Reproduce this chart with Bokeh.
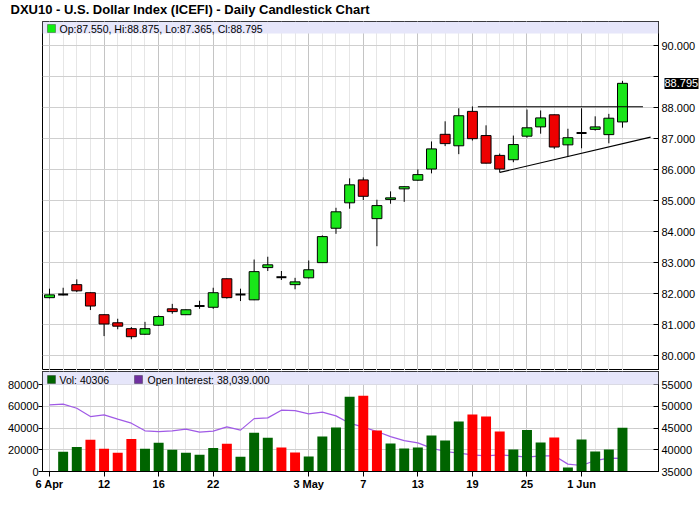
from bokeh.plotting import figure
from bokeh.layouts import column
from bokeh.models import (Range1d, LinearAxis, FixedTicker, NumeralTickFormatter,
                          Label, BoxAnnotation, ColumnDataSource, Title)
from bokeh.embed import file_html
from bokeh.resources import INLINE

# ---------------- data ----------------
dates = ["2010-04-06", "2010-04-07", "2010-04-08", "2010-04-09", "2010-04-12",
         "2010-04-13", "2010-04-14", "2010-04-15", "2010-04-16", "2010-04-19",
         "2010-04-20", "2010-04-21", "2010-04-22", "2010-04-23", "2010-04-26",
         "2010-04-27", "2010-04-28", "2010-04-29", "2010-04-30", "2010-05-03",
         "2010-05-04", "2010-05-05", "2010-05-06", "2010-05-07", "2010-05-10",
         "2010-05-11", "2010-05-12", "2010-05-13", "2010-05-14", "2010-05-17",
         "2010-05-18", "2010-05-19", "2010-05-20", "2010-05-21", "2010-05-24",
         "2010-05-25", "2010-05-26", "2010-05-27", "2010-05-28", "2010-06-01",
         "2010-06-02", "2010-06-03", "2010-06-04"]
opens = [81.88, 81.98, 82.30, 82.04, 81.33, 81.07, 80.88, 80.70, 80.99, 81.52,
         81.33, 81.61, 81.57, 82.49, 81.98, 81.81, 82.85, 82.54, 82.30, 82.52,
         83.01, 84.12, 84.94, 85.68, 84.43, 85.05, 85.39, 85.67, 86.03, 87.15,
         86.78, 87.89, 87.11, 86.47, 86.33, 87.09, 87.39, 87.78, 86.81, 87.19,
         87.31, 87.14, 87.550]
highs = [82.17, 82.20, 82.47, 82.05, 81.34, 81.20, 80.93, 81.10, 81.31, 81.68,
         81.50, 81.78, 82.20, 82.50, 82.17, 83.11, 83.20, 82.74, 82.52, 83.08,
         83.89, 84.78, 85.73, 85.76, 85.04, 85.31, 85.47, 86.02, 86.92, 87.57,
         87.99, 88.05, 87.44, 86.53, 87.11, 87.95, 87.92, 87.79, 87.33, 87.99,
         87.73, 87.81, 88.875]
lows = [81.86, 81.95, 82.06, 81.48, 80.64, 80.86, 80.54, 80.68, 80.98, 81.36,
        81.32, 81.52, 81.52, 81.85, 81.77, 81.80, 82.74, 82.45, 82.15, 82.50,
        83.00, 83.94, 84.75, 85.03, 83.54, 84.91, 84.97, 85.65, 85.89, 86.77,
        86.51, 86.95, 86.21, 85.92, 86.25, 87.04, 87.17, 86.68, 86.44, 86.70,
        87.27, 86.86, 87.365]
closes = [81.97, 81.98, 82.10, 81.61, 81.03, 80.96, 80.62, 80.88, 81.27, 81.43,
          81.49, 81.61, 82.04, 81.88, 81.98, 82.72, 82.94, 82.54, 82.39, 82.78,
          83.85, 84.65, 85.52, 85.15, 84.85, 85.10, 85.46, 85.85, 86.68, 86.85,
          87.75, 87.01, 86.22, 86.03, 86.82, 87.36, 87.68, 86.74, 87.04, 87.19,
          87.39, 87.67, 88.795]
volume = [0, 18200, 22700, 29200, 20900, 17200, 30100, 20900, 26500, 20000,
          17200, 15400, 21800, 25500, 13500, 35700, 31100, 22100, 17500, 13800,
          32300, 40600, 69100, 70000, 37800, 25800, 21200, 22100, 33200, 28600,
          46100, 52500, 50700, 36900, 20300, 38400, 26700, 31300, 3700, 29500,
          18400, 20300, 40306]
open_interest = [50370, 50530, 49600, 47670, 48060, 47070, 46150, 44380, 44220, 44380,
                 44770, 44080, 44310, 45300, 44540, 47210, 47370, 49150, 49050, 48290,
                 48690, 47830, 46150, 45230, 44220, 43060, 42140, 41610, 40390, 39610,
                 39240, 38850, 38620, 38850, 38620, 38320, 38620, 38620, 36700, 36380,
                 37530, 38090, 38039]
tick_dates = ["2010-04-06", "2010-04-12", "2010-04-16", "2010-04-22", "2010-05-03",
              "2010-05-07", "2010-05-13", "2010-05-19", "2010-05-25", "2010-06-01"]
tick_labels = ["6 Apr", "12", "16", "22", "3 May", "7", "13", "19", "25", "1 Jun"]
price_ticks = [80, 81, 82, 83, 84, 85, 86, 87, 88, 89, 90]
vol_ticks = [0, 20000, 40000, 60000, 80000]
oi_ticks = [35000, 40000, 45000, 50000, 55000]
# drawn trend lines (bar index, price)
trend_x0 = [32.4, 34.0]
trend_y0 = [88.04, 85.92]
trend_x1 = [44.5, 45.06]
trend_y1 = [88.04, 87.06]
title_text = "DXU10 - U.S. Dollar Index (ICEFI) - Daily Candlestick Chart"

# ---------------- layout (page pixels) ----------------
FONT = "Liberation Sans"
PAGE_W = 700
B_LEFT, B_RIGHT = 42, 42
FW = PAGE_W - B_LEFT - B_RIGHT
FRAME_L = B_LEFT
X0, X1 = 0.487, 45.64
TITLE_H = 21
U_TOP, U_FH = TITLE_H, 349
U_BOT = U_TOP + U_FH
Y1_LO, Y1_HI = 79.53, 90.79
L_TOP_B, L_FH, L_BOT_B = 1, 100, 24
L_TOP = U_BOT + L_TOP_B
L_BOT = L_TOP + L_FH
V_HI = 92300
OI_LO = 35000
OI_HI = OI_LO + V_HI / 4


def x_at(px):
    return X0 + (px - FRAME_L) / FW * (X1 - X0)


def y1_at(py):
    return Y1_LO + (U_BOT - py) / U_FH * (Y1_HI - Y1_LO)


def y2_at(py):
    return (L_BOT - py) / L_FH * V_HI


idx = list(range(1, len(dates) + 1))
tick_pos = [dates.index(d) + 1 for d in tick_dates]
GREEN, RED = "#19e619", "#ee0000"

body = dict(x=[], top=[], bottom=[], color=[])
doji = dict(x=[], y=[])
for i, o, c in zip(idx, opens, closes):
    if o == c:
        doji["x"].append(i); doji["y"].append(o)
    else:
        body["x"].append(i); body["top"].append(max(o, c)); body["bottom"].append(min(o, c))
        body["color"].append(GREEN if c > o else RED)

vol_colors = ["#006400"]
for k in range(1, len(closes)):
    vol_colors.append("#006400" if closes[k] >= closes[k - 1] else "#ff0000")

last_close = closes[-1]

# ---------------- title strip ----------------
title = Title(text=title_text, align="left", vertical_align="top", offset=10 - B_LEFT,
              standoff=2, text_font=FONT, text_font_size="13px", text_font_style="bold",
              text_color="black")
p0 = figure(width=PAGE_W, height=TITLE_H, x_range=Range1d(X0, X1), y_range=Range1d(0, 1),
            x_axis_location=None, y_axis_location=None, title=title,
            output_backend="svg", toolbar_location=None,
            min_border_left=B_LEFT, min_border_right=B_RIGHT,
            min_border_top=0, min_border_bottom=0,
            outline_line_color=None, background_fill_color="white",
            border_fill_color="white")
p0.grid.visible = False

# ---------------- upper panel ----------------
p1 = figure(frame_width=FW, frame_height=U_FH, x_range=p0.x_range,
            y_range=Range1d(Y1_LO, Y1_HI), x_axis_location=None, y_axis_location="right",
            output_backend="svg", toolbar_location=None,
            min_border_left=B_LEFT, min_border_right=B_RIGHT,
            min_border_top=0, min_border_bottom=0,
            outline_line_color="black", outline_line_width=1,
            background_fill_color="white", border_fill_color="white")

ax = p1.yaxis[0]
ax.ticker = FixedTicker(ticks=price_ticks)
ax.formatter = NumeralTickFormatter(format="0.000")
ax.major_label_overrides = {89: ""}
ax.major_tick_in = 5
ax.major_tick_out = 0
ax.minor_tick_in = 0
ax.minor_tick_out = 0
ax.major_label_standoff = 3
ax.axis_line_color = "black"
ax.major_tick_line_color = "black"
ax.major_label_text_font = FONT
ax.major_label_text_font_size = "11px"
ax.major_label_text_color = "black"

# last-price marker: white value on a black box, drawn by an outer axis over the label column
marker_axis = LinearAxis(ticker=FixedTicker(ticks=[last_close]),
                         formatter=NumeralTickFormatter(format="0.000"),
                         axis_line_color=None, major_tick_in=34, major_tick_out=0,
                         minor_tick_in=0, minor_tick_out=0,
                         major_tick_line_color="black", major_tick_line_width=11,
                         major_label_standoff=-34, major_label_text_color="white",
                         major_label_text_font=FONT, major_label_text_font_size="11px")
p1.add_layout(marker_axis, "right")

p1.ygrid.ticker = FixedTicker(ticks=price_ticks)
p1.ygrid.grid_line_color = "#cfcfcf"
p1.xgrid.ticker = FixedTicker(ticks=tick_pos, minor_ticks=idx)
p1.xgrid.grid_line_color = "#c4c4c4"
p1.xgrid.minor_grid_line_color = "#e6e6e6"

p1.add_layout(BoxAnnotation(bottom=y1_at(33), fill_color="#e6e6fa", fill_alpha=1,
                            line_alpha=0))

p1.segment(x0=idx, y0=lows, x1=idx, y1=highs, line_color="black", line_width=1)
p1.vbar(x="x", top="top", bottom="bottom", width=0.73, fill_color="color",
        line_color="black", line_width=1, source=ColumnDataSource(body))
p1.rect(x="x", y="y", width=0.73, height=2, height_units="screen", fill_color="black",
        line_alpha=0, source=ColumnDataSource(doji))
p1.segment(x0=trend_x0, y0=trend_y0, x1=trend_x1, y1=trend_y1, line_color="black",
           line_width=1.2)

p1.add_layout(BoxAnnotation(left=x_at(47), right=x_at(55), top=y1_at(24), bottom=y1_at(32),
                            fill_color="#11ee11", fill_alpha=1, line_color="black",
                            line_width=1))
legend_txt = "Op:%.3f, Hi:%.3f, Lo:%.3f, Cl:%.3f" % (opens[-1], highs[-1], lows[-1], closes[-1])
p1.add_layout(Label(x=x_at(59), y=y1_at(28), text=legend_txt, text_font=FONT,
                    text_font_size="10.5px", text_baseline="middle", text_color="black"))

# ---------------- lower panel ----------------
p2 = figure(frame_width=FW, frame_height=L_FH, x_range=p0.x_range,
            y_range=Range1d(0, V_HI), output_backend="svg", toolbar_location=None,
            min_border_left=B_LEFT, min_border_right=B_RIGHT,
            min_border_top=L_TOP_B, min_border_bottom=L_BOT_B,
            outline_line_color="black", outline_line_width=1,
            background_fill_color="white", border_fill_color="white")
p2.extra_y_ranges = {"oi": Range1d(OI_LO, OI_HI)}
p2.add_layout(LinearAxis(y_range_name="oi"), "right")

for a in p2.axis:
    a.axis_line_color = "black"
    a.major_tick_line_color = "black"
    a.minor_tick_in = 0
    a.minor_tick_out = 0
    a.major_label_text_font = FONT
    a.major_label_text_font_size = "11px"
    a.major_label_text_color = "black"

la = p2.yaxis[0]
la.ticker = FixedTicker(ticks=vol_ticks)
la.formatter = NumeralTickFormatter(format="0")
la.major_tick_out = 4
la.major_tick_in = 0
la.major_label_standoff = 0

ra = p2.yaxis[1]
ra.ticker = FixedTicker(ticks=oi_ticks)
ra.formatter = NumeralTickFormatter(format="0")
ra.major_tick_in = 5
ra.major_tick_out = 0
ra.major_label_standoff = 3

ba = p2.xaxis[0]
ba.ticker = FixedTicker(ticks=tick_pos)
ba.major_label_overrides = {p: t for p, t in zip(tick_pos, tick_labels)}
ba.major_tick_out = 5
ba.major_tick_in = 0
ba.major_label_standoff = 1
ba.major_label_text_font_style = "bold"

p2.ygrid.ticker = FixedTicker(ticks=vol_ticks)
p2.ygrid.grid_line_color = "#cfcfcf"
p2.xgrid.ticker = FixedTicker(ticks=tick_pos, minor_ticks=idx)
p2.xgrid.grid_line_color = "#c4c4c4"
p2.xgrid.minor_grid_line_color = "#e6e6e6"

p2.add_layout(BoxAnnotation(bottom=y2_at(384), fill_color="#e6e6fa", fill_alpha=1,
                            line_alpha=0))
p2.line(x=idx, y=open_interest, y_range_name="oi", line_color="#a05ae6", line_width=1.2)
p2.vbar(x=idx, top=volume, bottom=0, width=0.73, fill_color=vol_colors, line_alpha=0)

p2.add_layout(BoxAnnotation(left=x_at(47), right=x_at(55), top=y2_at(375), bottom=y2_at(383),
                            fill_color="#006400", fill_alpha=1, line_color="black",
                            line_width=1))
p2.add_layout(Label(x=x_at(59), y=y2_at(379), text="Vol: %d" % volume[-1], text_font=FONT,
                    text_font_size="10.5px", text_baseline="middle", text_color="black"))
p2.add_layout(BoxAnnotation(left=x_at(134), right=x_at(142), top=y2_at(375), bottom=y2_at(383),
                            fill_color="#7030a0", fill_alpha=1, line_color="black",
                            line_width=1))
p2.add_layout(Label(x=x_at(147), y=y2_at(379),
                    text="Open Interest: {:,.3f}".format(open_interest[-1]), text_font=FONT,
                    text_font_size="10.5px", text_baseline="middle", text_color="black"))

layout = column(p0, p1, p2, spacing=0)
open("out.html", "w").write(file_html(layout, INLINE))
